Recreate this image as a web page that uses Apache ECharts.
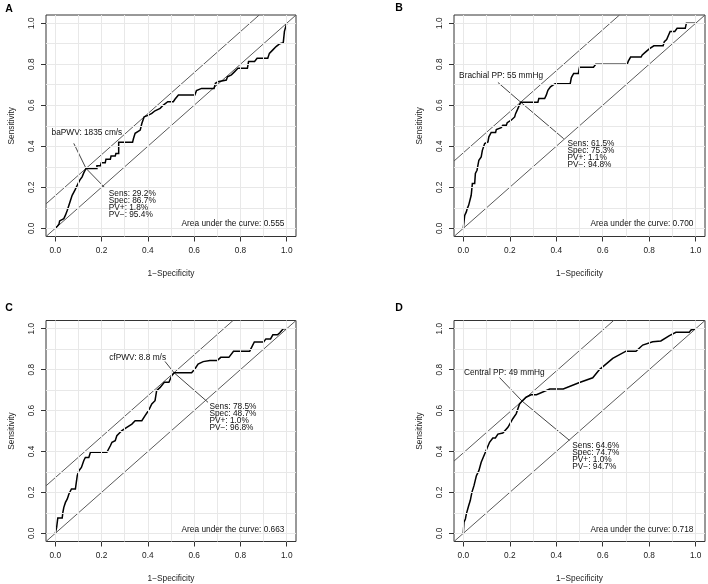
<!DOCTYPE html>
<html><head><meta charset="utf-8">
<script src="https://cdn.jsdelivr.net/npm/echarts@6/dist/echarts.min.js"></script>
<style>html,body{margin:0;padding:0;background:#fff}#c{width:708px;height:584px}</style>
</head><body><div id="c"></div>
<script>
const panelLetters = ['A', 'B', 'C', 'D'];
const markerNames = ['baPWV: 1835 cm/s', 'Brachial PP: 55 mmHg', 'cfPWV: 8.8 m/s', 'Central PP: 49 mmHg'];
const sensPct = [29.2, 61.5, 78.5, 64.6];
const specPct = [86.7, 75.3, 48.7, 74.7];
const ppvPct = [1.8, 1.1, 1.0, 1.0];
const npvPct = [95.4, 94.8, 96.8, 94.7];
const aucValues = ['0.555', '0.700', '0.663', '0.718'];
const tickValues = [0, 0.2, 0.4, 0.6, 0.8, 1.0];
const gridValues = [0, 0.1, 0.2, 0.3, 0.4, 0.5, 0.6, 0.7, 0.8, 0.9, 1.0];

const fprA = [0,0.009,0.016,0.019,0.027,0.037,0.044,0.052,0.059,0.066,0.073,0.085,0.095,0.106,0.116,0.123,0.133,0.18,0.18,0.195,0.199,0.216,0.219,0.238,0.241,0.259,0.262,0.274,0.274,0.334,0.338,0.345,0.352,0.367,0.374,0.384,0.403,0.417,0.431,0.453,0.467,0.486,0.51,0.517,0.532,0.603,0.61,0.632,0.686,0.692,0.703,0.739,0.744,0.761,0.775,0.789,0.83,0.835,0.861,0.872,0.918,0.925,0.94,0.954,0.97,0.985,0.99,1];
const sensA = [0,0.01,0.02,0.036,0.042,0.047,0.064,0.088,0.112,0.137,0.161,0.186,0.21,0.235,0.251,0.27,0.292,0.292,0.305,0.305,0.32,0.32,0.337,0.337,0.352,0.352,0.365,0.365,0.42,0.42,0.438,0.463,0.47,0.479,0.511,0.544,0.552,0.56,0.573,0.585,0.601,0.617,0.617,0.629,0.65,0.65,0.671,0.682,0.682,0.707,0.715,0.723,0.739,0.748,0.764,0.78,0.78,0.813,0.813,0.829,0.829,0.853,0.87,0.886,0.9,0.905,0.96,1];

const fprB = [0,0.003,0.006,0.013,0.017,0.023,0.03,0.034,0.039,0.049,0.052,0.059,0.067,0.077,0.082,0.092,0.106,0.11,0.12,0.139,0.142,0.163,0.17,0.185,0.189,0.206,0.221,0.225,0.232,0.238,0.247,0.321,0.325,0.35,0.357,0.364,0.375,0.395,0.46,0.465,0.475,0.495,0.5,0.56,0.57,0.705,0.71,0.72,0.765,0.77,0.785,0.8,0.82,0.86,0.865,0.875,0.89,0.91,0.92,0.955,0.96,1];
const sensB = [0,0.031,0.063,0.08,0.096,0.112,0.12,0.161,0.218,0.218,0.267,0.283,0.332,0.348,0.38,0.413,0.421,0.446,0.467,0.467,0.481,0.491,0.502,0.502,0.515,0.527,0.543,0.559,0.576,0.592,0.615,0.615,0.633,0.633,0.649,0.673,0.69,0.705,0.705,0.735,0.755,0.755,0.785,0.785,0.8,0.8,0.815,0.835,0.835,0.845,0.86,0.875,0.89,0.89,0.91,0.92,0.96,0.96,0.975,0.975,1,1];

const fprC = [0,0.006,0.011,0.03,0.033,0.037,0.044,0.052,0.059,0.07,0.087,0.095,0.102,0.113,0.123,0.13,0.145,0.152,0.223,0.238,0.245,0.259,0.266,0.288,0.309,0.331,0.345,0.374,0.388,0.403,0.417,0.431,0.438,0.453,0.471,0.491,0.503,0.514,0.589,0.603,0.617,0.639,0.668,0.7,0.715,0.75,0.77,0.84,0.86,0.9,0.91,0.93,0.94,0.96,0.97,0.985,1];
const sensC = [0,0.029,0.075,0.075,0.103,0.127,0.151,0.168,0.192,0.217,0.217,0.282,0.306,0.322,0.355,0.371,0.371,0.396,0.396,0.428,0.445,0.453,0.477,0.502,0.518,0.534,0.55,0.55,0.575,0.6,0.632,0.648,0.697,0.713,0.738,0.738,0.77,0.785,0.785,0.803,0.827,0.839,0.845,0.845,0.86,0.86,0.89,0.89,0.935,0.935,0.95,0.95,0.97,0.97,0.98,1,1];

const fprD = [0,0.003,0.009,0.013,0.02,0.023,0.03,0.037,0.046,0.056,0.063,0.067,0.077,0.095,0.113,0.127,0.138,0.149,0.17,0.192,0.213,0.228,0.242,0.253,0.27,0.292,0.315,0.372,0.43,0.5,0.557,0.586,0.643,0.7,0.743,0.772,0.815,0.85,0.887,0.915,0.972,0.98,1];
const sensD = [0,0.054,0.07,0.094,0.097,0.135,0.16,0.2,0.233,0.28,0.28,0.306,0.347,0.396,0.445,0.466,0.466,0.485,0.49,0.518,0.56,0.585,0.632,0.646,0.665,0.677,0.677,0.705,0.705,0.737,0.76,0.8,0.855,0.89,0.89,0.92,0.936,0.94,0.966,0.982,0.982,0.994,1];

const fprs = [fprA, fprB, fprC, fprD];
const senss = [sensA, sensB, sensC, sensD];

// layout (not data): panel boxes and annotation anchors in axis units
const LO = -0.04, HI = 1.04;
const grids = [
  {left: 46, top: 15, width: 250, height: 221.5},
  {left: 454, top: 15, width: 251, height: 221.5},
  {left: 46, top: 320.5, width: 250, height: 221},
  {left: 454, top: 320.5, width: 251, height: 221}
];
const letterPos = [[9, 9], [399, 8], [9, 308.5], [399, 308.5]];
const annot = [
  {labelX: -0.016, labelY: 0.467, top: [0.080, 0.414], end: [0.213, 0.199], statsX: 0.231, statsY: 0.168},
  {labelX: -0.018, labelY: 0.744, top: [0.149, 0.711], end: [0.432, 0.437], statsX: 0.448, statsY: 0.41},
  {labelX: 0.233, labelY: 0.859, top: [0.474, 0.840], end: [0.660, 0.640], statsX: 0.666, statsY: 0.62},
  {labelX: 0.003, labelY: 0.785, top: [0.156, 0.761], end: [0.457, 0.454], statsX: 0.469, statsY: 0.428}
];
const FONT = '"Liberation Sans", Arial, Helvetica, sans-serif';
const FS = 8.3;

const chart = echarts.init(document.getElementById('c'), null, {renderer: 'canvas'});

const xAxes = [], yAxes = [], series = [];
grids.forEach((g, i) => {
  g.show = true; g.borderColor = '#333'; g.borderWidth = 1; g.backgroundColor = 'transparent';
  g.containLabel = false;
  const common = {
    gridIndex: i, type: 'value', min: LO, max: HI,
    splitLine: {show: false},
    axisLine: {show: false, onZero: false},
    axisTick: {show: true, customValues: tickValues, length: 5, lineStyle: {color: '#333', width: 1}},
    axisLabel: {customValues: tickValues, formatter: v => v.toFixed(1), fontSize: FS, color: '#222', fontFamily: FONT},
    nameLocation: 'middle',
    nameTextStyle: {fontSize: FS, color: '#222', fontFamily: FONT}
  };
  xAxes.push(Object.assign({}, common, {name: '1\u2212Specificity', nameGap: 33, axisLabel: Object.assign({}, common.axisLabel, {margin: 10})}));
  yAxes.push(Object.assign({}, common, {name: 'Sensitivity', nameGap: 30, axisLabel: Object.assign({}, common.axisLabel, {rotate: 90, margin: 10})}));

  // light grid lines every 0.1
  series.push({
    type: 'line', xAxisIndex: i, yAxisIndex: i, data: [], silent: true, z: 1,
    markLine: {
      silent: true, symbol: 'none', animation: false, label: {show: false},
      lineStyle: {color: '#e8e8e8', width: 1, type: 'solid'},
      emphasis: {disabled: true},
      data: gridValues.map(v => ({xAxis: v})).concat(gridValues.map(v => ({yAxis: v})))
    }
  });
  // chance diagonal
  series.push({
    type: 'line', xAxisIndex: i, yAxisIndex: i, clip: true, showSymbol: false, silent: true, z: 2,
    data: [[LO, LO], [HI, HI]], lineStyle: {color: '#5a5a5a', width: 1}
  });
  // tangent line through optimal point
  const c = sensPct[i] / 100 + specPct[i] / 100 - 1;
  series.push({
    type: 'line', xAxisIndex: i, yAxisIndex: i, clip: true, showSymbol: false, silent: true, z: 2,
    data: [[LO, LO + c], [HI - c, HI]], lineStyle: {color: '#5a5a5a', width: 1}
  });
  // pointer segments: label -> optimal point -> stats
  const px = 1 - specPct[i] / 100, py = sensPct[i] / 100;
  series.push({
    type: 'line', xAxisIndex: i, yAxisIndex: i, clip: true, showSymbol: false, silent: true, z: 2,
    data: [annot[i].top, [px, py], annot[i].end], lineStyle: {color: '#444', width: 1}
  });
  // ROC curve
  series.push({
    type: 'line', xAxisIndex: i, yAxisIndex: i, clip: true, showSymbol: false, silent: true, z: 3,
    data: fprs[i].map((x, j) => [x, senss[i][j]]), lineStyle: {color: '#000', width: 1.5, join: 'miter'}
  });
});

chart.setOption({
  animation: false,
  backgroundColor: '#fff',
  grid: grids, xAxis: xAxes, yAxis: yAxes, series: series
});

const graphics = [];
grids.forEach((g, i) => {
  const P = v => chart.convertToPixel({gridIndex: i}, v);
  graphics.push({type: 'text', x: letterPos[i][0], y: letterPos[i][1], style: {
    text: panelLetters[i], font: 'bold 10.5px ' + FONT, fill: '#000', align: 'center', verticalAlign: 'middle'}});
  const lp = P([annot[i].labelX, annot[i].labelY]);
  graphics.push({type: 'text', x: lp[0], y: lp[1], z: 10, style: {
    text: markerNames[i], font: FS + 'px ' + FONT, fill: '#111', align: 'left', verticalAlign: 'middle'}});
  const sp = P([annot[i].statsX, annot[i].statsY]);
  const lines = ['Sens: ' + sensPct[i].toFixed(1) + '%', 'Spec: ' + specPct[i].toFixed(1) + '%',
                 'PV+: ' + ppvPct[i].toFixed(1) + '%', 'PV\u2212: ' + npvPct[i].toFixed(1) + '%'];
  lines.forEach((t, k) => {
    graphics.push({type: 'text', x: sp[0], y: sp[1] + k * 7, z: 10, style: {
      text: t, font: FS + 'px ' + FONT, fill: '#111', align: 'left', verticalAlign: 'middle'}});
  });
  const ap = P([0.99, 0.02]);
  graphics.push({type: 'text', x: ap[0], y: ap[1], z: 10, style: {
    text: 'Area under the curve: ' + aucValues[i], font: FS + 'px ' + FONT, fill: '#111', align: 'right', verticalAlign: 'middle'}});
});
chart.setOption({graphic: graphics});
</script>
</body></html>
